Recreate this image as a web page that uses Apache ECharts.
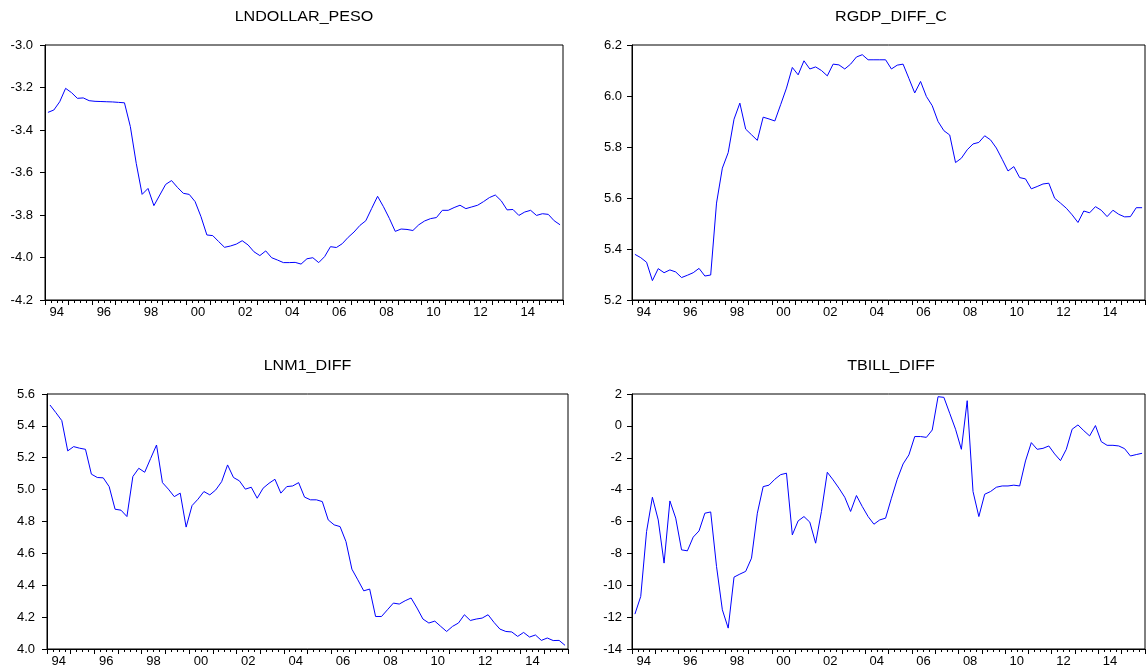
<!DOCTYPE html>
<html>
<head>
<meta charset="utf-8">
<script src="https://cdn.jsdelivr.net/npm/echarts@6.0.0/dist/echarts.min.js"></script>
<style>
  html, body { margin: 0; padding: 0; background: #ffffff; }
  #chart { width: 1148px; height: 668px; }
</style>
</head>
<body>
<div id="chart"></div>
<script>
// Quarterly sample 1994Q1 - 2015Q4
const startYear = 1994;
const yearCount = 22;
const quarters = [];
for (let y = 0; y < yearCount; y++) {
  for (let q = 1; q <= 4; q++) quarters.push((startYear + y) + 'Q' + q);
}

const lndollarPeso = [
  -3.317, -3.306, -3.267, -3.204, -3.224, -3.251, -3.249, -3.262,
  -3.265, -3.266, -3.267, -3.268, -3.270, -3.272, -3.384, -3.557,
  -3.703, -3.675, -3.756, -3.706, -3.656, -3.638, -3.670, -3.698,
  -3.703, -3.737, -3.808, -3.894, -3.897, -3.925, -3.952, -3.946,
  -3.937, -3.921, -3.941, -3.973, -3.991, -3.969, -4.001, -4.012,
  -4.024, -4.024, -4.023, -4.031, -4.006, -4.001, -4.024, -3.996,
  -3.949, -3.953, -3.935, -3.905, -3.880, -3.849, -3.827, -3.769,
  -3.712, -3.761, -3.816, -3.877, -3.866, -3.868, -3.873, -3.846,
  -3.828, -3.817, -3.812, -3.778, -3.778, -3.765, -3.754, -3.770,
  -3.762, -3.754, -3.737, -3.718, -3.706, -3.733, -3.776, -3.774,
  -3.802, -3.786, -3.778, -3.802, -3.794, -3.797, -3.827, -3.846
];

const rgdpDiffC = [
  5.379, 5.366, 5.348, 5.276, 5.323, 5.307, 5.318, 5.310,
  5.288, 5.297, 5.307, 5.324, 5.294, 5.298, 5.580, 5.717,
  5.778, 5.909, 5.972, 5.870, 5.848, 5.826, 5.917, 5.910,
  5.902, 5.966, 6.031, 6.112, 6.083, 6.138, 6.106, 6.114,
  6.100, 6.079, 6.125, 6.122, 6.106, 6.125, 6.153, 6.162,
  6.142, 6.142, 6.142, 6.142, 6.106, 6.121, 6.125, 6.069,
  6.012, 6.057, 5.998, 5.962, 5.900, 5.864, 5.847, 5.739,
  5.756, 5.789, 5.812, 5.818, 5.844, 5.828, 5.796, 5.752,
  5.706, 5.723, 5.680, 5.675, 5.636, 5.645, 5.655, 5.658,
  5.599, 5.580, 5.560, 5.534, 5.504, 5.549, 5.542, 5.566,
  5.552, 5.527, 5.552, 5.536, 5.526, 5.527, 5.562, 5.562
];

const lnm1Diff = [
  5.531, 5.483, 5.433, 5.243, 5.270, 5.260, 5.253, 5.097,
  5.076, 5.074, 5.019, 4.877, 4.871, 4.831, 5.082, 5.134,
  5.109, 5.195, 5.280, 5.044, 5.003, 4.956, 4.978, 4.765,
  4.900, 4.940, 4.988, 4.967, 4.998, 5.050, 5.155, 5.076,
  5.055, 5.003, 5.015, 4.946, 5.009, 5.040, 5.065, 4.978,
  5.019, 5.023, 5.044, 4.953, 4.936, 4.936, 4.925, 4.810,
  4.779, 4.768, 4.674, 4.501, 4.434, 4.365, 4.376, 4.204,
  4.204, 4.246, 4.288, 4.282, 4.303, 4.320, 4.257, 4.188,
  4.163, 4.175, 4.142, 4.110, 4.142, 4.163, 4.215, 4.179,
  4.188, 4.194, 4.215, 4.167, 4.125, 4.110, 4.107, 4.079,
  4.104, 4.075, 4.088, 4.054, 4.069, 4.053, 4.054, 4.023
];

const tbillDiff = [
  -11.81, -10.70, -6.63, -4.48, -5.90, -8.61, -4.71, -5.79,
  -7.78, -7.84, -6.98, -6.59, -5.48, -5.40, -8.82, -11.54,
  -12.69, -9.49, -9.30, -9.13, -8.30, -5.48, -3.81, -3.72,
  -3.35, -3.06, -2.97, -6.84, -5.96, -5.69, -6.04, -7.36,
  -5.37, -2.91, -3.39, -3.91, -4.48, -5.37, -4.37, -5.06,
  -5.69, -6.17, -5.90, -5.79, -4.54, -3.35, -2.39, -1.82,
  -0.67, -0.67, -0.72, -0.26, 1.83, 1.79, 0.79, -0.21,
  -1.47, 1.58, -4.12, -5.69, -4.29, -4.12, -3.85, -3.77,
  -3.77, -3.72, -3.77, -2.20, -1.05, -1.47, -1.41, -1.26,
  -1.76, -2.18, -1.47, -0.21, 0.06, -0.30, -0.63, 0.02,
  -0.99, -1.22, -1.22, -1.26, -1.43, -1.89, -1.80, -1.72
];

const panelTitles = ['LNDOLLAR_PESO', 'RGDP_DIFF_C', 'LNM1_DIFF', 'TBILL_DIFF'];
const panelSeries = [lndollarPeso, rgdpDiffC, lnm1Diff, tbillDiff];
const yRanges = [
  { min: -4.2, max: -3.0, step: 0.2, digits: 1 },
  { min: 5.2, max: 6.2, step: 0.2, digits: 1 },
  { min: 4.0, max: 5.6, step: 0.2, digits: 1 },
  { min: -14, max: 2, step: 2, digits: 0 }
];

// plot frames
const frames = [
  { left: 45, top: 45, width: 518, height: 255, labelGap: 12 },
  { left: 632, top: 45, width: 518, height: 255, labelGap: 10 },
  { left: 47, top: 394, width: 521, height: 255, labelGap: 12 },
  { left: 632, top: 394, width: 518, height: 255, labelGap: 10 }
];

const FONT = '"Liberation Sans", Arial, sans-serif';
const TEXT_SIZE = 13;
const TITLE_SIZE = 14;

// each quarter sits in the middle of its slot on a decimal-year axis
const quarterPos = quarters.map((q, i) => startYear + (i + 0.5) / 4);

function yearLabel(v) {
  const k = (v - startYear - 0.5) / 2;
  if (Math.abs(k - Math.round(k)) < 1e-6) {
    const yr = Math.floor(v) % 100;
    return (yr < 10 ? '0' : '') + yr;
  }
  return '';
}

const grid = [], xAxis = [], yAxis = [], series = [], graphic = [];

frames.forEach((f, g) => {
  grid.push({
    left: f.left, top: f.top, width: f.width, height: f.height,
    show: true, borderColor: '#000', borderWidth: 1, backgroundColor: 'transparent',
    containLabel: false
  });
  // quarter ticks + year labels
  xAxis.push({
    type: 'value', gridIndex: g, position: 'bottom',
    min: startYear, max: startYear + yearCount, interval: 0.25,
    axisLine: { show: true, onZero: false, lineStyle: { color: '#000', width: 1 } },
    axisTick: { show: true, length: 3, lineStyle: { color: '#000', width: 1 } },
    axisLabel: {
      show: true, formatter: yearLabel, margin: 6, color: '#000',
      fontFamily: FONT, fontSize: TEXT_SIZE, showMinLabel: true, showMaxLabel: true
    },
    splitLine: { show: false }
  });
  // year ticks
  xAxis.push({
    type: 'value', gridIndex: g, position: 'bottom',
    min: startYear, max: startYear + yearCount, interval: 1,
    axisLine: { show: false, onZero: false },
    axisTick: { show: true, length: 5, lineStyle: { color: '#000', width: 1 } },
    axisLabel: { show: false },
    splitLine: { show: false }
  });
  const r = yRanges[g];
  yAxis.push({
    type: 'value', gridIndex: g, position: 'left',
    min: r.min, max: r.max, interval: r.step,
    axisLine: { show: true, onZero: false, lineStyle: { color: '#000', width: 1 } },
    axisTick: { show: true, length: 5, lineStyle: { color: '#000', width: 1 } },
    axisLabel: {
      formatter: v => v.toFixed(r.digits), margin: f.labelGap, color: '#000',
      fontFamily: FONT, fontSize: TEXT_SIZE
    },
    splitLine: { show: false }
  });
  series.push({
    type: 'line', xAxisIndex: g * 2, yAxisIndex: g,
    data: quarterPos.map((x, i) => [x, panelSeries[g][i]]),
    showSymbol: false, symbol: 'none',
    lineStyle: { color: '#0000ff', width: 1 },
    clip: true, animation: false
  });
  graphic.push({
    type: 'text', x: f.left + f.width / 2, y: f.top - 28, scaleX: 1.15,
    style: {
      text: panelTitles[g], fill: '#000', font: TITLE_SIZE + 'px ' + FONT,
      textAlign: 'center', textVerticalAlign: 'middle'
    }
  });
});

const chart = echarts.init(document.getElementById('chart'), null, { renderer: 'canvas' });
chart.setOption({
  backgroundColor: '#ffffff',
  animation: false,
  grid, xAxis, yAxis, series, graphic
});
</script>
</body>
</html>
